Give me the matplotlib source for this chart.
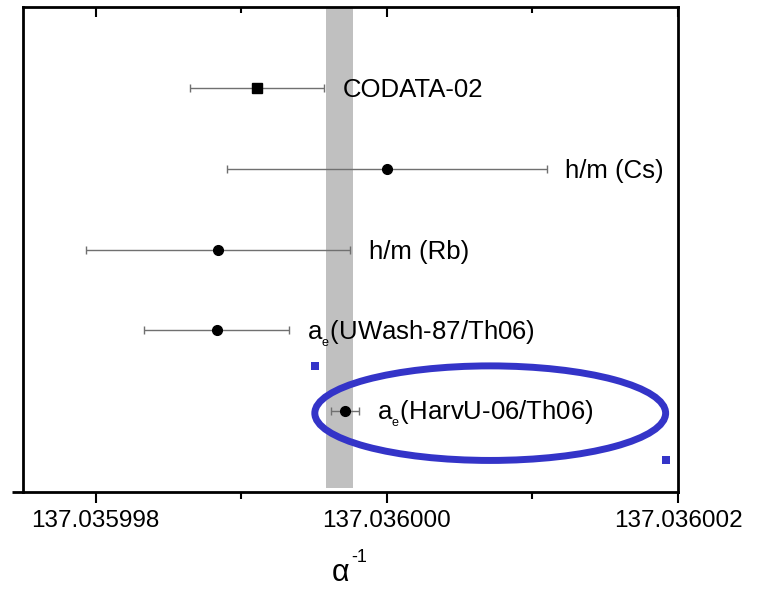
import matplotlib
matplotlib.use("Agg")
import matplotlib.pyplot as plt
from matplotlib.patches import Ellipse
from matplotlib.ticker import FixedLocator, FuncFormatter

plt.rcParams['font.family'] = ['Liberation Sans', 'DejaVu Sans']
plt.rcParams['mathtext.fontset'] = 'custom'
plt.rcParams['mathtext.rm'] = 'Liberation Sans'
plt.rcParams['mathtext.it'] = 'Liberation Sans:italic'

# measurements of the inverse fine-structure constant
labels = ['CODATA-02', 'h/m (Cs)', 'h/m (Rb)',
          r'a$_{_\mathregular{e}}$(UWash-87/Th06)',
          r'a$_{_\mathregular{e}}$(HarvU-06/Th06)']
values = [137.03599911, 137.03600000, 137.03599884, 137.03599883, 137.03599971]
errors = [0.46e-6, 1.10e-6, 0.91e-6, 0.50e-6, 0.096e-6]
rows = [5, 4, 3, 2, 1]
markers = ['s', 'o', 'o', 'o', 'o']

# grey reference band
band = (137.03599958, 137.03599977)

# highlight ellipse around the HarvU result
hl_center = (137.03600071, 0.975)
hl_size = (2.41e-6, 1.17)

major_ticks = [137.035998, 137.036000, 137.036002]
minor_ticks = [137.035999, 137.036001]

fig = plt.figure(figsize=(7.63, 5.92), dpi=100)
ax = fig.add_axes([0.0301, 0.169, 0.8585, 0.819])

ax.axvspan(band[0], band[1], ymin=0.008, ymax=1, color='#c0c0c0', lw=0, zorder=0)

for v, e, r, m, lab in zip(values, errors, rows, markers, labels):
    ax.errorbar(v, r, xerr=e, fmt=m, color='k', ms=7, ecolor='#707070',
                elinewidth=1, capsize=3, capthick=1, zorder=3)
    ax.annotate(lab, xy=(v + e, r), xytext=(13, -6.5), textcoords='offset points',
                ha='left', va='baseline', fontsize=18.5)

blue = '#3434c8'
ax.add_patch(Ellipse(hl_center, hl_size[0], hl_size[1], fill=False,
                     edgecolor=blue, lw=5, zorder=4))
corner_x = [hl_center[0] - hl_size[0] / 2, hl_center[0] + hl_size[0] / 2]
corner_y = [hl_center[1] + hl_size[1] / 2, hl_center[1] - hl_size[1] / 2]
ax.plot(corner_x, corner_y, ls='none', marker='s', ms=6, mew=0, color=blue, zorder=5)

ax.set_xlim(137.0359975, 137.036002)
ax.set_ylim(0, 6)

ax.xaxis.set_major_locator(FixedLocator(major_ticks))
ax.xaxis.set_minor_locator(FixedLocator(minor_ticks))
ax.xaxis.set_major_formatter(FuncFormatter(lambda x, p: f"{x:.6f}"))
ax.tick_params(axis='x', which='major', direction='out', length=8, width=1.5,
               labelsize=17.5, pad=5)
ax.tick_params(axis='x', which='minor', direction='out', length=5, width=1.5)
ax.set_yticks([])

top = ax.secondary_xaxis('top')
top.xaxis.set_major_locator(FixedLocator(major_ticks))
top.xaxis.set_minor_locator(FixedLocator(minor_ticks))
top.tick_params(axis='x', which='major', direction='in', length=7, width=1.5, labeltop=False)
top.tick_params(axis='x', which='minor', direction='in', length=4, width=1.5)
top.spines['top'].set_visible(False)

for s in ax.spines.values():
    s.set_linewidth(2)

# bottom axis line runs a little past the left frame
ax.plot([-0.017, 0], [0, 0], transform=ax.transAxes, color='k', lw=2,
        clip_on=False, solid_capstyle='butt')

# axis label: alpha with a small raised "-1"
ax.set_xlabel('α', fontsize=22, labelpad=19)
ax.xaxis.label.set_x(0.485)
ax.annotate('-1', xy=(1, 0), xycoords=ax.xaxis.label, xytext=(1, 19),
            textcoords='offset points', ha='left', va='baseline', fontsize=13)

fig.savefig('out.png', dpi=100)
